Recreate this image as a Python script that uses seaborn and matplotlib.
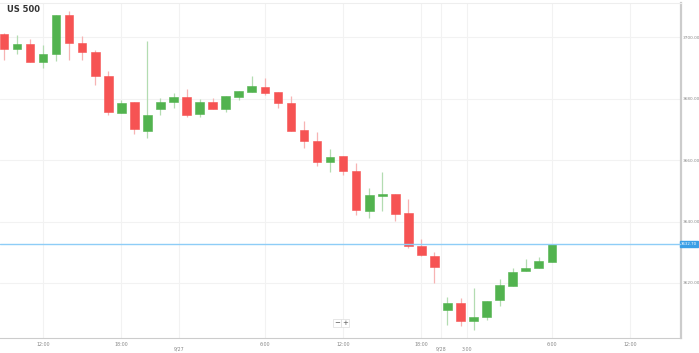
import matplotlib
matplotlib.use("Agg")
import matplotlib.pyplot as plt
import seaborn as sns
import pandas as pd

sns.set_style("white")
plt.rcParams['font.family'] = ['DejaVu Sans']

# hourly candles, US 500
opens = [3701.0, 3696.1, 3697.7, 3691.9, 3694.5, 3707.2, 3698.1, 3695.1, 3687.3, 3675.3,
         3678.9, 3669.4, 3676.6, 3678.9, 3680.5, 3675.0, 3678.9, 3676.6, 3680.5, 3682.1,
         3683.7, 3682.1, 3678.5, 3669.8, 3666.2, 3659.4, 3661.3, 3656.4, 3643.4, 3648.3,
         3648.9, 3642.8, 3632.0, 3628.8, 3611.2, 3613.5, 3607.6, 3608.9, 3614.5, 3619.0,
         3623.9, 3624.9, 3626.8]
closes = [3696.1, 3697.7, 3691.9, 3694.5, 3707.2, 3698.1, 3695.1, 3687.3, 3675.6, 3678.5,
          3670.1, 3674.6, 3678.9, 3680.5, 3674.6, 3678.9, 3676.6, 3680.8, 3682.4, 3684.1,
          3681.8, 3678.5, 3669.4, 3666.2, 3659.4, 3661.0, 3656.4, 3643.7, 3648.6, 3648.9,
          3642.4, 3632.0, 3629.1, 3625.2, 3613.5, 3607.6, 3608.9, 3614.2, 3619.4, 3623.6,
          3624.9, 3627.2, 3632.7]
highs = [3701.3, 3700.7, 3699.4, 3697.4, 3707.2, 3708.5, 3700.3, 3695.8, 3688.9, 3679.5,
         3678.9, 3698.7, 3680.2, 3681.8, 3683.1, 3679.8, 3680.2, 3680.8, 3682.4, 3687.3,
         3686.7, 3682.1, 3680.8, 3672.7, 3669.1, 3663.6, 3661.3, 3659.0, 3650.9, 3656.1,
         3648.9, 3647.3, 3634.3, 3630.1, 3615.5, 3615.1, 3618.4, 3614.2, 3621.3, 3624.9,
         3627.8, 3628.5, 3632.7]
lows = [3692.5, 3694.5, 3691.9, 3689.9, 3692.2, 3692.5, 3692.5, 3684.4, 3674.6, 3675.3,
        3668.5, 3667.2, 3674.6, 3676.9, 3674.0, 3674.0, 3676.6, 3675.6, 3679.5, 3682.1,
        3681.1, 3676.9, 3669.4, 3663.9, 3658.0, 3656.1, 3655.1, 3642.1, 3641.1, 3643.4,
        3640.2, 3631.4, 3628.8, 3620.0, 3606.3, 3606.0, 3604.7, 3608.0, 3612.5, 3619.0,
        3623.9, 3624.9, 3626.8]

tick_pos = [3, 9, 13.4, 20, 26, 32, 33.5, 35.5, 42, 48]
tick_labels = ["12:00", "18:00", "\n9/27", "6:00", "12:00", "18:00", "\n9/28", "\n3:00", "6:00", "12:00"]
y_ticks = [3620, 3640, 3660, 3680, 3700]
current_price = 3632.7

df = pd.DataFrame({"open": opens, "close": closes, "high": highs, "low": lows})
df["x"] = range(len(df))
df["up"] = df["close"] >= df["open"]

RED, RED_W = "#f65353", "#f7b3b3"
GREEN, GREEN_W = "#52b34f", "#b3dcb1"

fig = plt.figure(figsize=(6.99, 3.53), dpi=100)
ax = fig.add_axes([0, 15 / 353, 681 / 699, 335 / 353])

# wicks
for up, wc in [(True, GREEN_W), (False, RED_W)]:
    d = df[df["up"] == up]
    ax.vlines(d["x"], d["low"], d["high"], color=wc, linewidth=0.9, zorder=2)

# bodies
for up, c in [(True, GREEN), (False, RED)]:
    d = df[df["up"] == up]
    bottom = d[["open", "close"]].min(axis=1)
    height = (d["close"] - d["open"]).abs().clip(lower=0.5)
    ax.bar(d["x"], height, bottom=bottom, width=0.66, color=c,
           edgecolor=c, linewidth=0.4, zorder=3)

ax.set_xlim(-0.3, 51.9)
ax.set_ylim(3602.1, 3711.1)

ax.set_xticks(tick_pos)
ax.set_xticklabels(tick_labels, linespacing=0.95)
ax.set_yticks(y_ticks)
ax.set_yticklabels([f"{v:.2f}" for v in y_ticks])
ax.yaxis.tick_right()
ax.tick_params(axis="x", labelsize=3.4, colors="#888888", length=2, width=0.5, pad=1, color="#bbbbbb")
ax.tick_params(axis="y", labelsize=3.1, colors="#888888", length=0, pad=1.5)

ax.grid(True, color="#f2f2f2", linewidth=0.8)
ax.set_axisbelow(True)

sns.despine(ax=ax, left=True, top=False, right=False, bottom=False)
ax.spines["right"].set_color("#cccccc")
ax.spines["right"].set_linewidth(1.6)
ax.spines["bottom"].set_color("#cccccc")
ax.spines["bottom"].set_linewidth(0.8)
ax.spines["top"].set_color("#eeeeee")
ax.spines["top"].set_linewidth(0.8)

# current price line and label
ax.axhline(current_price, color="#8ecdf7", linewidth=1.0, zorder=4)
ax.annotate(f"{current_price:.2f}", xy=(1.0, current_price), xycoords=("figure fraction", "data"),
            xytext=(-1.2, 0), textcoords="offset points", fontsize=2.8, color="white",
            va="center", ha="right", annotation_clip=False,
            bbox=dict(boxstyle="square,pad=0.2", fc="#3a9fe6", ec="#3a9fe6"))

fig.text(7 / 699, 1 - 10 / 353, "US 500", fontsize=6, fontweight="bold", color="#333333", va="center")

# zoom buttons
for xp, s in [(337, "\u2212"), (345, "+")]:
    fig.text(xp / 699, 1 - 323 / 353, s, fontsize=5, color="#555555", ha="center", va="center",
             bbox=dict(boxstyle="square,pad=0.2", fc="white", ec="#dddddd", lw=0.5))

fig.savefig("out.png", dpi=100)
